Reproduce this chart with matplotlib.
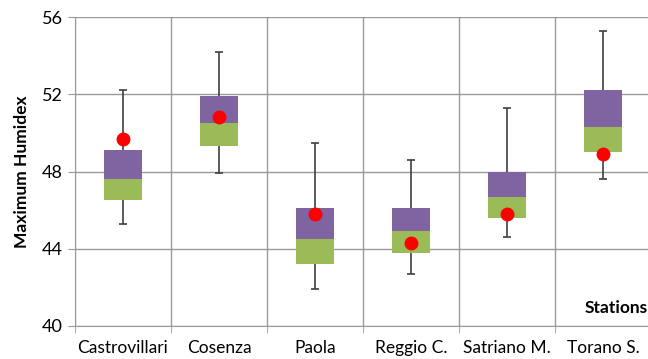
import matplotlib
matplotlib.use("Agg")
import matplotlib.pyplot as plt
import numpy as np

plt.rcParams["font.family"] = ["Lato", "DejaVu Sans"]

stations = ["Castrovillari", "Cosenza", "Paola", "Reggio C.", "Satriano M.", "Torano S."]
whisker_low = [45.3, 47.9, 41.9, 42.7, 44.6, 47.6]
q1 = [46.5, 49.3, 43.2, 43.8, 45.6, 49.0]
median = [47.6, 50.5, 44.5, 44.9, 46.7, 50.3]
q3 = [49.1, 51.9, 46.1, 46.1, 48.0, 52.2]
whisker_high = [52.2, 54.2, 49.5, 48.6, 51.3, 55.3]
dots = [49.7, 50.8, 45.8, 44.3, 45.8, 48.9]

GREEN = "#9BBB59"
PURPLE = "#8064A2"
GRID = "#999999"

fig = plt.figure(figsize=(6.48, 3.59), dpi=100)
ax = fig.add_axes([75 / 648, 1 - 326 / 359, 576 / 648, 309 / 359])

x = np.arange(len(stations))
q1 = np.array(q1)
median = np.array(median)
q3 = np.array(q3)
lo = np.array(whisker_low)
hi = np.array(whisker_high)

# whiskers first, the boxes cover the inner part
ax.errorbar(x, median, yerr=[median - lo, hi - median], fmt="none",
            ecolor="#404040", elinewidth=1.2, capsize=3, capthick=1.2, zorder=2)
ax.bar(x, median - q1, bottom=q1, width=0.4, color=GREEN, zorder=3)
ax.bar(x, q3 - median, bottom=median, width=0.4, color=PURPLE, zorder=3)
ax.plot(x, dots, "o", color="#FF0000", markersize=9, zorder=4)

ax.set_ylim(40, 56)
ax.set_xlim(-0.5, len(stations) - 0.5)
ax.set_yticks([40, 44, 48, 52, 56])
ax.set_xticks(x)
ax.set_xticklabels(stations, fontsize=12.5)
ax.set_xticks(np.arange(len(stations) + 1) - 0.5, minor=True)
ax.tick_params(axis="x", which="major", length=0, pad=10)
ax.tick_params(axis="x", which="minor", length=5, color=GRID)
ax.tick_params(axis="y", length=5, color=GRID, labelsize=13, pad=4)
ax.grid(True, axis="y", color=GRID, linewidth=1)
ax.grid(True, axis="x", which="minor", color=GRID, linewidth=1)
ax.set_axisbelow(True)
for side in ["top", "right"]:
    ax.spines[side].set_visible(False)
for side in ["left", "bottom"]:
    ax.spines[side].set_color(GRID)

ax.set_ylabel("Maximum Humidex", fontsize=12.5, fontweight="bold", labelpad=8)
ax.text(5.47, 40.5, "Stations", ha="right", va="bottom", fontsize=12.5, fontweight="bold")

fig.savefig("out.png", dpi=100)
